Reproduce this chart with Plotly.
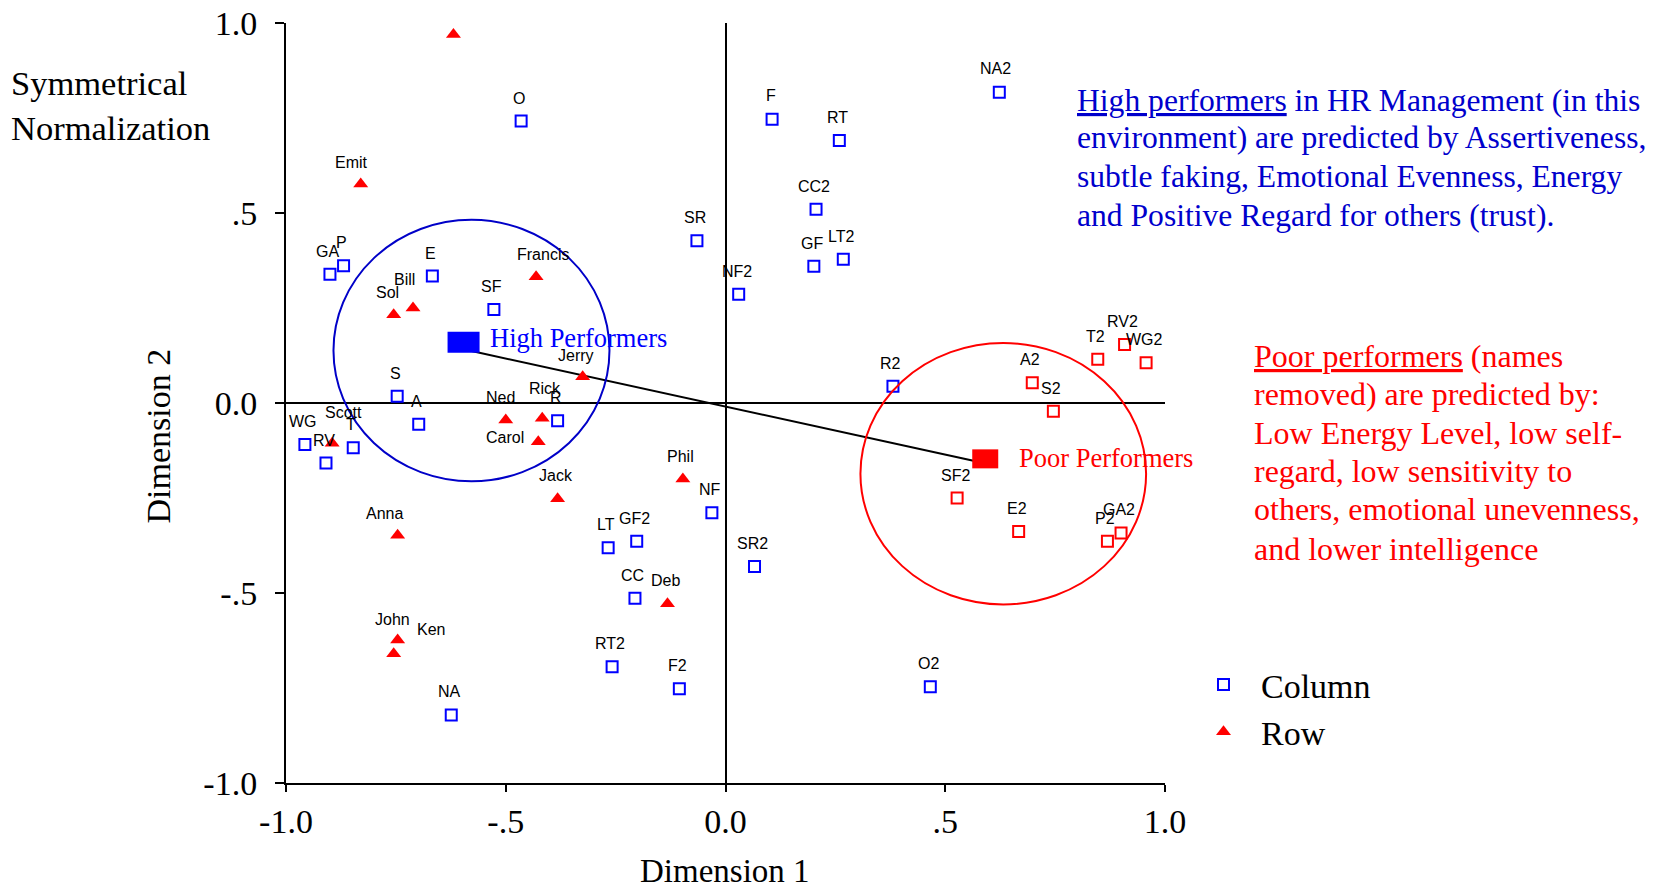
import plotly.graph_objects as go

# ---------------- data ----------------
# Column points, blue squares
col_names = ["O", "SR", "GA", "P", "E", "SF", "S", "A", "R", "WG", "T", "RV", "NF", "LT",
             "GF2", "CC", "RT2", "F2", "NA", "NA2", "F", "RT", "CC2", "GF", "LT2", "NF2",
             "R2", "SR2", "O2"]
col_x = [-0.465, -0.065, -0.900, -0.869, -0.667, -0.527, -0.747, -0.698, -0.382, -0.957,
         -0.847, -0.909, -0.031, -0.267, -0.202, -0.206, -0.258, -0.105, -0.624, 0.623,
         0.106, 0.259, 0.206, 0.201, 0.268, 0.030, 0.381, 0.066, 0.466]
col_y = [0.742, 0.427, 0.339, 0.361, 0.334, 0.246, 0.018, -0.056, -0.047, -0.109,
         -0.118, -0.158, -0.289, -0.381, -0.364, -0.514, -0.694, -0.752, -0.821, 0.818,
         0.747, 0.691, 0.510, 0.360, 0.378, 0.286, 0.044, -0.430, -0.747]

# Column points in the poor-performer cluster, red squares
poor_names = ["A2", "S2", "T2", "RV2", "WG2", "SF2", "E2", "P2", "GA2"]
poor_x = [0.698, 0.746, 0.847, 0.908, 0.957, 0.527, 0.667, 0.869, 0.900]
poor_y = [0.053, -0.022, 0.115, 0.154, 0.106, -0.250, -0.338, -0.364, -0.342]

# Row points, red triangles
row_names = ["", "Emit", "Francis", "Bill", "Sol", "Jerry", "Ned", "Rick", "Carol", "Scott",
             "Phil", "Jack", "Anna", "Deb", "John", "Ken"]
row_x = [-0.619, -0.830, -0.431, -0.711, -0.755, -0.325, -0.500, -0.417, -0.426, -0.895,
         -0.097, -0.382, -0.746, -0.132, -0.746, -0.755]
row_y = [0.970, 0.576, 0.332, 0.250, 0.232, 0.069, -0.045, -0.040, -0.102, -0.106,
         -0.200, -0.252, -0.348, -0.528, -0.624, -0.660]

# Group centroids (High / Poor performers)
group_names = ["High Performers", "Poor Performers"]
group_x = [-0.596, 0.591]
group_y = [0.160, -0.147]
link_x = [-0.583, 0.564]
link_y = [0.138, -0.152]
circle_cx = [-0.578, 0.632]
circle_cy = [0.138, -0.186]
circle_rx = [0.314, 0.325]
circle_ry = [0.344, 0.344]

tick_vals = [-1.0, -0.5, 0.0, 0.5, 1.0]
x_tick_text = ["-1.0", "-.5", "0.0", ".5", "1.0"]
y_tick_text = ["-1.0", "-.5", "0.0", ".5", "1.0"]

blue_lines = ["<u>High performers</u> in HR Management (in this",
              "environment) are predicted by Assertiveness,",
              "subtle faking, Emotional Evenness, Energy",
              "and Positive Regard for others (trust)."]
red_lines = ["<u>Poor performers</u> (names",
             "removed) are predicted by:",
             "Low Energy Level, low self-",
             "regard, low sensitivity to",
             "others, emotional unevenness,",
             "and lower intelligence"]

# ---------------- styling / layout ----------------
W, H = 1667, 894
ML, MR, MT, MB = 286, 502, 23, 111
PW, PH = W - ML - MR, H - MT - MB

def paper(xp, yp):
    return (xp - ML) / PW, (H - MB - yp) / PH

BLUE = "#0000FF"
RED = "#FF0000"
SERIF = "Liberation Serif, Times New Roman, serif"
SANS = "Liberation Sans, Arial, sans-serif"

# label offsets in screen pixels (dx, dy) relative to the point
default_off = (-2, -23)
label_off = {"Emit": (-9, -22), "Francis": (7, -22), "Bill": (-9, -29), "Sol": (-6, -22),
             "Jerry": (-7, -21), "Rick": (3, -30), "Carol": (-33, -4), "Scott": (11, -31),
             "Anna": (-13, -22), "John": (-5, -21), "Ken": (37, -24), "Ned": (-5, -23),
             "NA2": (-4, -24), "F": (-1, -24)}

fig = go.Figure()

# circles
circle_colors = ["#0000C8", RED]
for cx, cy, rx, ry, c in zip(circle_cx, circle_cy, circle_rx, circle_ry, circle_colors):
    fig.add_shape(type="circle", xref="x", yref="y", x0=cx - rx, x1=cx + rx,
                  y0=cy - ry, y1=cy + ry, line=dict(color=c, width=2), layer="above")

# link line
fig.add_trace(go.Scatter(x=link_x, y=link_y, mode="lines",
                         line=dict(color="black", width=2), showlegend=False,
                         hoverinfo="skip", cliponaxis=False))

fig.add_trace(go.Scatter(x=col_x, y=col_y, mode="markers", name="Column",
                         marker=dict(symbol="square-open", size=11, color=BLUE,
                                     line=dict(width=2, color=BLUE)),
                         text=col_names, cliponaxis=False, legendgroup="a"))
fig.add_trace(go.Scatter(x=poor_x, y=poor_y, mode="markers", name="Column (poor)",
                         marker=dict(symbol="square-open", size=11, color=RED,
                                     line=dict(width=2, color=RED)),
                         text=poor_names, cliponaxis=False, showlegend=False))
fig.add_trace(go.Scatter(x=row_x, y=row_y, mode="markers", name="Row",
                         marker=dict(symbol="triangle-up", size=13, color=RED),
                         text=row_names, cliponaxis=False, legendgroup="b"))

# centroid rectangles (pixel-sized, anchored at data)
rect_half = [(16, 10.5), (13, 9.5)]
rect_colors = [BLUE, RED]
for gx, gy, (hw, hh), c in zip(group_x, group_y, rect_half, rect_colors):
    fig.add_shape(type="rect", xref="x", yref="y", xsizemode="pixel", ysizemode="pixel",
                  xanchor=gx, yanchor=gy, x0=-hw, x1=hw, y0=-hh, y1=hh,
                  fillcolor=c, line=dict(width=0), layer="above")

annotations = []
# point labels
for names, xs, ys in ((col_names, col_x, col_y), (poor_names, poor_x, poor_y),
                      (row_names, row_x, row_y)):
    for n, x, y in zip(names, xs, ys):
        if not n:
            continue
        dx, dy = label_off.get(n, default_off)
        annotations.append(dict(x=x, y=y, xref="x", yref="y", text=n, showarrow=False,
                                xshift=dx, yshift=-dy,
                                font=dict(family=SANS, size=16, color="black")))

# group labels
group_label_shift = [(24, 4.6), (32, 0.6)]
for n, gx, gy, (sx, sy), c in zip(group_names, group_x, group_y, group_label_shift, rect_colors):
    annotations.append(dict(x=gx, y=gy, xref="x", yref="y", text=n, showarrow=False,
                            xanchor="left", yanchor="middle", xshift=sx, yshift=sy,
                            font=dict(family=SERIF, size=26.5, color=c)))

# right-hand text blocks
blue_y = [100, 138, 176.5, 215]
for t, yp in zip(blue_lines, blue_y):
    px_, py_ = paper(1075, yp)
    annotations.append(dict(x=px_, y=py_, xref="paper", yref="paper", text=t,
                            showarrow=False, xanchor="left", yanchor="middle",
                            font=dict(family=SERIF, size=31.6, color="#0000CC")))
red_y = [356, 394.4, 432.7, 471, 509.2, 548.6]
for t, yp in zip(red_lines, red_y):
    px_, py_ = paper(1252, yp)
    annotations.append(dict(x=px_, y=py_, xref="paper", yref="paper", text=t,
                            showarrow=False, xanchor="left", yanchor="middle",
                            font=dict(family=SERIF, size=32, color=RED)))

# title
px_, py_ = paper(9, 105)
annotations.append(dict(x=px_, y=py_, xref="paper", yref="paper",
                        text="Symmetrical<br>Normalization", showarrow=False,
                        xanchor="left", yanchor="middle", align="left",
                        font=dict(family=SERIF, size=34.5, color="black")))
# axis titles
px_, py_ = paper(725, 871)
annotations.append(dict(x=px_, y=py_, xref="paper", yref="paper", text="Dimension 1",
                        showarrow=False, xanchor="center", yanchor="middle",
                        font=dict(family=SERIF, size=33, color="black")))
px_, py_ = paper(157.5, 436)
annotations.append(dict(x=px_, y=py_, xref="paper", yref="paper", text="Dimension 2",
                        showarrow=False, xanchor="center", yanchor="middle", textangle=-90,
                        font=dict(family=SERIF, size=34, color="black")))

lx, ly = paper(1186, 656)
fig.update_layout(
    width=W, height=H,
    margin=dict(l=ML, r=MR, t=MT, b=MB, autoexpand=False),
    paper_bgcolor="white", plot_bgcolor="white",
    showlegend=True,
    legend=dict(x=lx, y=ly, xanchor="left", yanchor="top", bgcolor="rgba(0,0,0,0)",
                font=dict(family=SERIF, size=34, color="black"),
                itemwidth=65, tracegroupgap=0, traceorder="grouped"),
    annotations=annotations,
    xaxis=dict(range=[-1, 1], tickvals=tick_vals, ticktext=x_tick_text,
               showgrid=False, zeroline=True, zerolinecolor="black", zerolinewidth=1.5,
               showline=True, linecolor="black", linewidth=2,
               ticks="outside", ticklen=7, tickwidth=2, tickcolor="black",
               tickfont=dict(family=SERIF, size=34, color="black")),
    yaxis=dict(range=[-1, 1], tickvals=tick_vals, ticktext=y_tick_text,
               showgrid=False, zeroline=True, zerolinecolor="black", zerolinewidth=1.5,
               showline=True, linecolor="black", linewidth=2,
               ticks="outside", ticklen=9, tickwidth=2, tickcolor="black",
               ticklabelstandoff=11,
               tickfont=dict(family=SERIF, size=34, color="black")),
)

fig.write_html("out.html", config={"displayModeBar": False},
               post_script="document.body.style.margin='0px';")
